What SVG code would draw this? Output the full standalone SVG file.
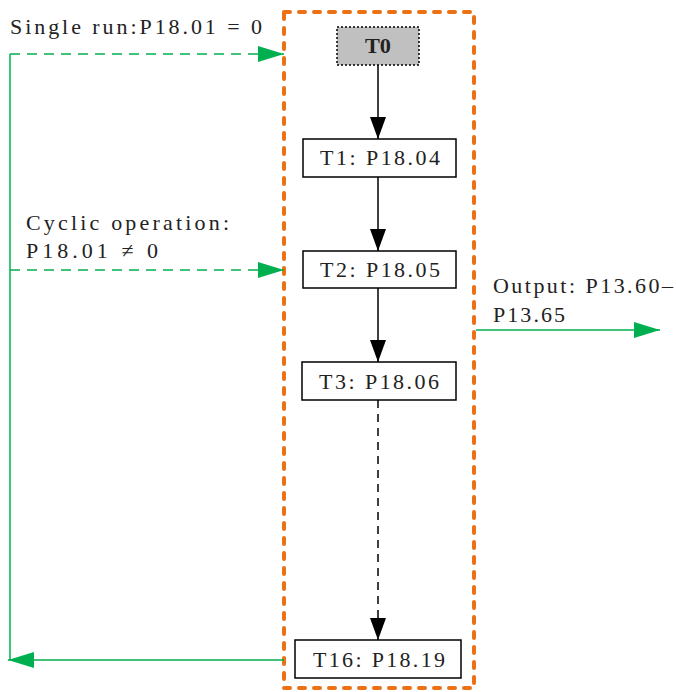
<svg xmlns="http://www.w3.org/2000/svg" width="676" height="692" viewBox="0 0 676 692">
<style>
text{font-family:"Liberation Serif","Noto Sans CJK SC",serif;font-size:22px;fill:#222}
.box{fill:#fff;stroke:#000;stroke-width:1.5}
.blk{stroke:#000;stroke-width:1.5;fill:none}
.grn{stroke:#00B050;stroke-width:1.5;fill:none}
</style>
<defs>
<marker id="ab" markerWidth="22" markerHeight="24" refX="22" refY="12" orient="auto" markerUnits="userSpaceOnUse"><path d="M0,4 L22,12 L0,20 Z" fill="#000"/></marker>
<marker id="ag" markerWidth="26" markerHeight="20" refX="26" refY="10" orient="auto" markerUnits="userSpaceOnUse"><path d="M0,2 L26,10 L0,18 Z" fill="#00B050"/></marker>
</defs>
<rect x="284" y="12" width="190" height="676" fill="none" stroke="#EC7014" stroke-width="4" stroke-linecap="round" stroke-dasharray="6 9"/>
<g id="connectors">
<path class="blk" d="M378,65 V139" marker-end="url(#ab)"/>
<path class="blk" d="M378,177 V251" marker-end="url(#ab)"/>
<path class="blk" d="M378,288 V362" marker-end="url(#ab)"/>
<path class="blk" d="M378,400 V640" stroke-dasharray="8 6" marker-end="url(#ab)"/>
<path class="grn" d="M10,660 V54"/>
<path class="grn" d="M10,54 H284" stroke-dasharray="10 7" marker-end="url(#ag)"/>
<path class="grn" d="M10,270 H284" stroke-dasharray="10 7" marker-end="url(#ag)"/>
<path class="grn" d="M284,660 H8" marker-end="url(#ag)"/>
<path class="grn" d="M476,330 H660" marker-end="url(#ag)"/>
</g>
<g id="T0"><rect x="337" y="27" width="82" height="38" fill="#C0C0C0" stroke="#000" stroke-width="1.5" stroke-dasharray="2 2"/><text x="365" y="53" font-weight="bold" fill="#000" textLength="26" lengthAdjust="spacingAndGlyphs">T0</text></g>
<g id="T1"><rect class="box" x="303" y="139" width="153" height="38"/><text x="320" y="165" textLength="120" lengthAdjust="spacing">T1: P18.04</text></g>
<g id="T2"><rect class="box" x="303" y="251" width="153" height="37"/><text x="320" y="277" textLength="120" lengthAdjust="spacing">T2: P18.05</text></g>
<g id="T3"><rect class="box" x="302" y="362" width="154" height="38"/><text x="319" y="389" textLength="120" lengthAdjust="spacing">T3: P18.06</text></g>
<g id="T16"><rect class="box" x="295" y="640" width="166" height="38"/><text x="313" y="667" textLength="132" lengthAdjust="spacing">T16: P18.19</text></g>
<text x="10" y="34" textLength="252" lengthAdjust="spacing">Single run:P18.01 = 0</text>
<text x="26" y="230" textLength="203" lengthAdjust="spacing">Cyclic operation:</text>
<text x="26" y="258" textLength="132" lengthAdjust="spacing">P18.01 ≠ 0</text>
<text x="493" y="293" textLength="180" lengthAdjust="spacing">Output: P13.60–</text>
<text x="493" y="322" textLength="72" lengthAdjust="spacing">P13.65</text>
</svg>
